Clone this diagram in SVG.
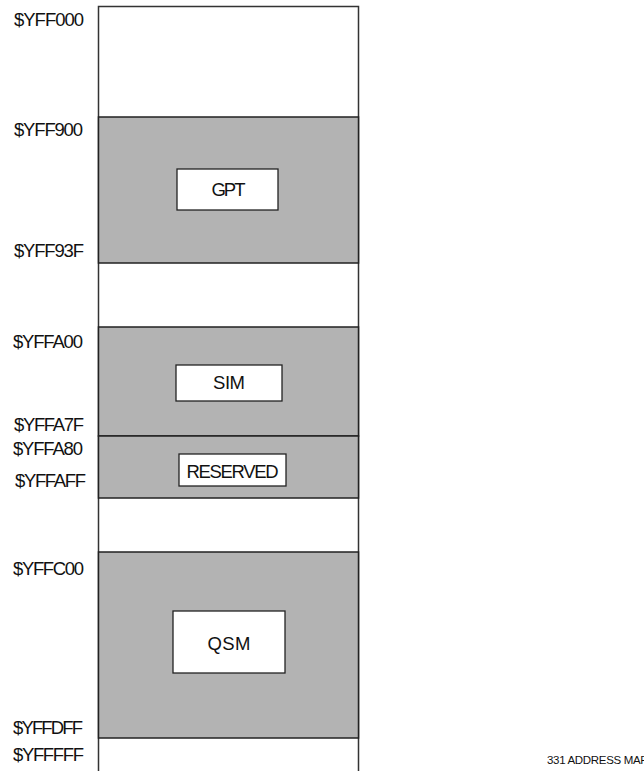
<svg xmlns="http://www.w3.org/2000/svg" width="644" height="771" viewBox="0 0 644 771">
<style>
.band{fill:#b3b3b3;stroke:#222;stroke-width:1.5}
.box{fill:#fff;stroke:#222;stroke-width:1.3}
.addr{font-family:"Liberation Sans",Arial,sans-serif;font-size:18.5px;fill:#111}
.lbl{font-family:"Liberation Sans",Arial,sans-serif;font-size:18.5px;fill:#111;text-anchor:middle}
.cap{font-family:"Liberation Sans",Arial,sans-serif;font-size:11.5px;fill:#111}
</style>
<rect x="0" y="0" width="644" height="771" fill="#fff"/>
<g id="memory-column">
<path d="M98.5 772 V6.5 H358.5 V772" fill="none" stroke="#333" stroke-width="1.5"/>
</g>
<g id="gpt">
<rect class="band" x="98.5" y="117" width="260" height="146"/>
<rect class="box" x="177" y="169" width="101" height="41"/>
<text class="lbl" x="228.5" y="196" textLength="34">GPT</text>
</g>
<g id="sim">
<rect class="band" x="98.5" y="327" width="260" height="109"/>
<rect class="box" x="176" y="365" width="106" height="36"/>
<text class="lbl" x="229" y="389" textLength="32">SIM</text>
</g>
<g id="reserved">
<rect class="band" x="98.5" y="436" width="260" height="62"/>
<rect class="box" x="179" y="454" width="107" height="32"/>
<text class="lbl" x="232.5" y="477.5" textLength="92">RESERVED</text>
</g>
<g id="qsm">
<rect class="band" x="98.5" y="552" width="260" height="186"/>
<rect class="box" x="173" y="611" width="112" height="62"/>
<text class="lbl" x="229" y="650" textLength="43">QSM</text>
</g>
<g id="connectors"></g>
<g id="addresses">
<text class="addr" x="14" y="26" textLength="70">$YFF000</text>
<text class="addr" x="14" y="136" textLength="69">$YFF900</text>
<text class="addr" x="14" y="257" textLength="70">$YFF93F</text>
<text class="addr" x="13" y="348" textLength="70">$YFFA00</text>
<text class="addr" x="14" y="431" textLength="70">$YFFA7F</text>
<text class="addr" x="13" y="455" textLength="70">$YFFA80</text>
<text class="addr" x="15" y="487" textLength="71">$YFFAFF</text>
<text class="addr" x="13" y="575" textLength="71">$YFFC00</text>
<text class="addr" x="13" y="734" textLength="70">$YFFDFF</text>
<text class="addr" x="13" y="761" textLength="71">$YFFFFF</text>
</g>
<text class="cap" x="547" y="764" textLength="101">331 ADDRESS MAP</text>
</svg>
